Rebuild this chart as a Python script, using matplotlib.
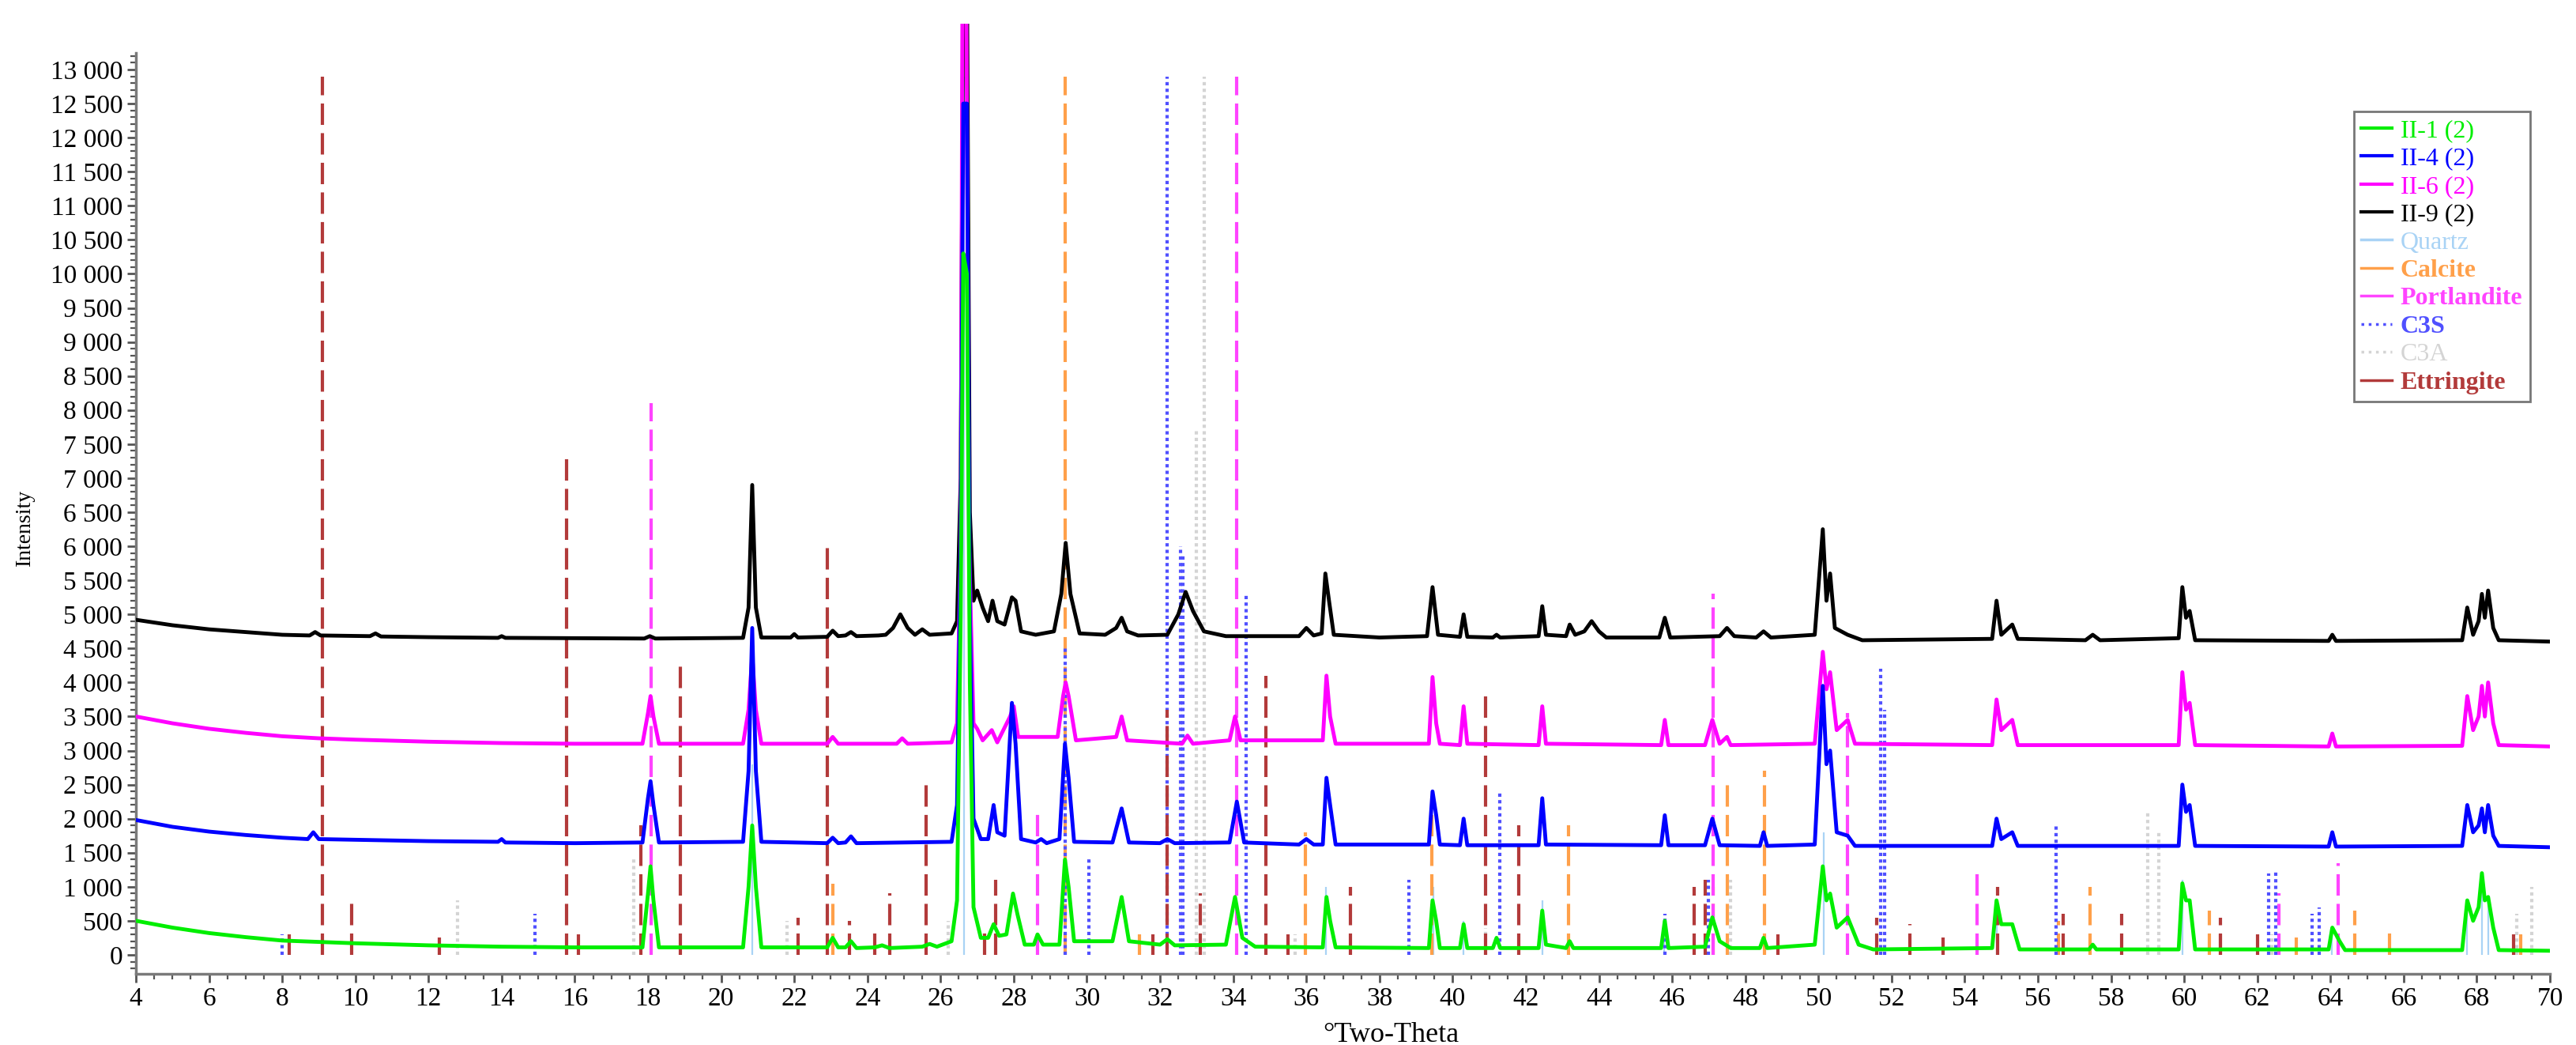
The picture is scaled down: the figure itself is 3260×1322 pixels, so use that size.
import matplotlib
matplotlib.use("Agg")
import matplotlib.pyplot as plt
from matplotlib.lines import Line2D
from matplotlib.ticker import MultipleLocator, FixedLocator, FuncFormatter

plt.rcParams['font.family'] = ['Liberation Serif', 'DejaVu Serif']

ii9 = [(4.0, 4920), (5.0, 4840), (6.0, 4780), (7.0, 4740), (8.0, 4700), (8.75, 4690), (8.9, 4740), (9.05, 4690),
       (10.4, 4680), (10.55, 4720), (10.7, 4675), (12.0, 4665), (13.9, 4655), (14.0, 4680), (14.1, 4655),
       (17.9, 4645), (18.05, 4680), (18.2, 4645), (20.6, 4655), (20.75, 5100), (20.85, 6900), (20.95, 5100),
       (21.1, 4660), (21.9, 4660), (22.0, 4710), (22.1, 4660), (22.9, 4670), (23.05, 4760), (23.2, 4680),
       (23.4, 4690), (23.55, 4740), (23.7, 4680), (24.3, 4690), (24.5, 4700), (24.7, 4800), (24.9, 5000),
       (25.1, 4800), (25.3, 4700), (25.5, 4780), (25.7, 4700), (26.3, 4720), (26.45, 4900), (26.55, 7000),
       (26.62, 14500), (26.72, 14500), (26.8, 6500), (26.9, 5200), (27.0, 5350), (27.15, 5100), (27.3, 4900),
       (27.42, 5200), (27.55, 4900), (27.75, 4850), (27.95, 5250), (28.05, 5200), (28.2, 4750), (28.6, 4700),
       (29.1, 4750), (29.3, 5300), (29.42, 6050), (29.55, 5300), (29.8, 4720), (30.5, 4700), (30.8, 4800),
       (30.95, 4950), (31.1, 4750), (31.4, 4690), (32.2, 4700), (32.5, 5000), (32.7, 5330), (32.9, 5050),
       (33.2, 4750), (33.8, 4680), (35.8, 4680), (36.0, 4800), (36.2, 4690), (36.42, 4720), (36.52, 5600),
       (36.62, 5200), (36.75, 4700), (38.0, 4660), (39.3, 4680), (39.45, 5400), (39.6, 4700), (40.2, 4670),
       (40.3, 5000), (40.4, 4670), (41.1, 4660), (41.2, 4700), (41.3, 4660), (42.35, 4680), (42.45, 5120),
       (42.55, 4700), (43.1, 4680), (43.2, 4850), (43.35, 4700), (43.6, 4750), (43.8, 4900), (44.0, 4750),
       (44.2, 4660), (45.65, 4660), (45.8, 4950), (45.95, 4660), (47.3, 4680), (47.5, 4800), (47.7, 4680),
       (48.3, 4660), (48.5, 4750), (48.7, 4660), (49.9, 4700), (50.12, 6250), (50.22, 5200), (50.32, 5600),
       (50.45, 4800), (50.8, 4700), (51.2, 4620), (54.75, 4640), (54.87, 5200), (55.0, 4700), (55.3, 4850),
       (55.45, 4640), (57.3, 4620), (57.5, 4700), (57.7, 4620), (59.85, 4650), (59.95, 5400), (60.05, 4950),
       (60.15, 5050), (60.3, 4620), (63.95, 4610), (64.05, 4700), (64.15, 4610), (67.6, 4620), (67.74, 5100),
       (67.9, 4700), (68.05, 4900), (68.14, 5300), (68.22, 4950), (68.31, 5350), (68.45, 4800), (68.6, 4620),
       (70.0, 4600)]

ii6 = [(4.0, 3500), (5.0, 3400), (6.0, 3320), (7.0, 3260), (8.0, 3210), (9.0, 3180), (10.0, 3160), (12.0, 3130),
       (14.0, 3110), (16.0, 3100), (17.85, 3100), (18.0, 3550), (18.07, 3800), (18.15, 3500), (18.3, 3100),
       (20.6, 3100), (20.75, 3600), (20.85, 4400), (20.95, 3600), (21.1, 3100), (22.9, 3100), (23.05, 3200),
       (23.2, 3100), (24.8, 3100), (24.95, 3180), (25.1, 3100), (26.3, 3120), (26.45, 3400), (26.55, 6000),
       (26.6, 14500), (26.7, 14500), (26.78, 6000), (26.9, 3400), (27.0, 3320), (27.15, 3150), (27.4, 3300),
       (27.55, 3120), (27.9, 3500), (28.0, 3650), (28.12, 3200), (29.2, 3200), (29.35, 3800), (29.42, 4000),
       (29.5, 3800), (29.7, 3150), (30.8, 3200), (30.95, 3500), (31.1, 3150), (32.6, 3100), (32.75, 3220),
       (32.9, 3100), (33.9, 3150), (34.05, 3500), (34.2, 3150), (36.45, 3150), (36.55, 4100), (36.65, 3500),
       (36.8, 3100), (39.35, 3100), (39.45, 4080), (39.55, 3400), (39.65, 3100), (40.2, 3080), (40.3, 3650),
       (40.4, 3100), (42.35, 3080), (42.45, 3650), (42.55, 3100), (45.7, 3080), (45.8, 3450), (45.9, 3080),
       (46.9, 3080), (47.1, 3450), (47.3, 3100), (47.5, 3200), (47.6, 3080), (49.9, 3100), (50.12, 4450),
       (50.22, 3900), (50.32, 4150), (50.5, 3300), (50.8, 3450), (51.0, 3100), (54.75, 3080), (54.87, 3750),
       (55.0, 3300), (55.3, 3450), (55.45, 3080), (59.85, 3080), (59.95, 4150), (60.05, 3600), (60.15, 3700),
       (60.3, 3080), (63.95, 3060), (64.05, 3250), (64.15, 3060), (67.6, 3070), (67.74, 3800), (67.9, 3300),
       (68.05, 3500), (68.14, 3950), (68.22, 3500), (68.31, 4000), (68.45, 3400), (68.6, 3080), (70.0, 3060)]

ii4 = [(4.0, 1980), (5.0, 1880), (6.0, 1810), (7.0, 1760), (8.0, 1720), (8.7, 1700), (8.85, 1800), (9.0, 1700),
       (10.0, 1690), (12.0, 1670), (13.9, 1660), (14.0, 1700), (14.1, 1650), (16.0, 1640), (17.85, 1650),
       (18.0, 2300), (18.07, 2550), (18.15, 2200), (18.3, 1650), (20.6, 1660), (20.75, 2700), (20.85, 4800),
       (20.95, 2700), (21.1, 1660), (22.9, 1640), (23.05, 1720), (23.2, 1640), (23.4, 1650), (23.55, 1740),
       (23.7, 1640), (26.3, 1660), (26.45, 2200), (26.55, 6000), (26.62, 12500), (26.72, 12500), (26.8, 5000),
       (26.9, 2000), (27.1, 1700), (27.3, 1700), (27.45, 2200), (27.55, 1800), (27.75, 1750), (27.95, 3700),
       (28.05, 3100), (28.2, 1700), (28.6, 1650), (28.75, 1700), (28.9, 1640), (29.25, 1700), (29.4, 3100),
       (29.5, 2600), (29.65, 1660), (30.7, 1650), (30.95, 2150), (31.15, 1650), (32.0, 1640), (32.2, 1700),
       (32.4, 1640), (33.9, 1650), (34.1, 2250), (34.3, 1650), (35.8, 1620), (36.0, 1700), (36.2, 1620),
       (36.45, 1620), (36.55, 2600), (36.65, 2200), (36.8, 1620), (39.35, 1620), (39.45, 2400), (39.55, 2050),
       (39.65, 1620), (40.2, 1610), (40.3, 2000), (40.4, 1610), (42.35, 1610), (42.45, 2300), (42.55, 1620),
       (45.7, 1610), (45.8, 2050), (45.9, 1610), (46.9, 1610), (47.1, 2000), (47.3, 1610), (48.4, 1600),
       (48.5, 1800), (48.6, 1600), (49.9, 1620), (50.12, 3950), (50.22, 2800), (50.32, 3000), (50.5, 1800),
       (50.8, 1750), (51.0, 1600), (54.75, 1600), (54.87, 2000), (55.0, 1700), (55.3, 1800), (55.45, 1600),
       (59.85, 1600), (59.95, 2500), (60.05, 2100), (60.15, 2200), (60.3, 1600), (63.95, 1590), (64.05, 1800),
       (64.15, 1590), (67.6, 1600), (67.74, 2200), (67.9, 1800), (68.05, 1900), (68.14, 2150), (68.22, 1800),
       (68.31, 2200), (68.45, 1750), (68.6, 1600), (70.0, 1580)]

ii1 = [(4.0, 500), (5.0, 400), (6.0, 320), (7.0, 260), (8.0, 210), (9.0, 190), (10.0, 170), (12.0, 140),
       (14.0, 120), (16.0, 110), (17.85, 110), (18.0, 900), (18.07, 1300), (18.15, 800), (18.3, 110),
       (20.6, 110), (20.75, 1000), (20.85, 1900), (20.95, 1000), (21.1, 110), (22.9, 110), (23.05, 250),
       (23.2, 110), (23.4, 110), (23.55, 200), (23.7, 100), (24.2, 110), (24.4, 140), (24.6, 100), (25.5, 120),
       (25.7, 160), (25.9, 120), (26.3, 200), (26.45, 800), (26.55, 5000), (26.62, 10300), (26.72, 10000),
       (26.8, 4000), (26.9, 700), (27.1, 250), (27.3, 250), (27.45, 450), (27.6, 280), (27.8, 300), (27.98, 900),
       (28.1, 600), (28.3, 150), (28.55, 150), (28.65, 300), (28.8, 150), (29.25, 150), (29.4, 1400),
       (29.5, 1000), (29.65, 200), (30.7, 200), (30.95, 850), (31.15, 200), (32.0, 150), (32.2, 230),
       (32.4, 140), (33.8, 150), (34.05, 850), (34.25, 250), (34.6, 120), (36.45, 110), (36.55, 850),
       (36.65, 500), (36.8, 110), (39.35, 100), (39.45, 800), (39.55, 500), (39.65, 100), (40.2, 100),
       (40.3, 450), (40.4, 100), (41.1, 100), (41.2, 250), (41.3, 100), (42.35, 100), (42.45, 650), (42.55, 150),
       (43.1, 100), (43.2, 200), (43.3, 100), (45.7, 100), (45.8, 500), (45.9, 100), (46.9, 120), (47.1, 550),
       (47.3, 200), (47.6, 100), (48.4, 100), (48.5, 250), (48.6, 100), (49.9, 150), (50.12, 1300),
       (50.22, 800), (50.32, 900), (50.5, 400), (50.8, 550), (51.1, 150), (51.5, 80), (54.75, 100),
       (54.87, 800), (55.0, 450), (55.3, 450), (55.5, 80), (57.4, 80), (57.5, 150), (57.6, 80), (59.85, 80),
       (59.95, 1050), (60.05, 800), (60.15, 800), (60.3, 80), (63.95, 80), (64.05, 400), (64.25, 200),
       (64.4, 70), (67.6, 70), (67.74, 800), (67.9, 500), (68.05, 700), (68.14, 1200), (68.22, 800),
       (68.31, 850), (68.45, 400), (68.6, 70), (70.0, 60)]

# reference sticks (2theta, height)
quartz = [(20.86, 2800), (26.64, 12900), (36.54, 1000), (39.47, 1000), (40.29, 500), (42.45, 800), (45.79, 500),
          (50.14, 1800), (54.87, 500), (59.96, 1100), (64.04, 300), (67.74, 800), (68.14, 1000), (68.31, 800)]
calcite = [(23.06, 1050), (29.41, 12900), (31.44, 300), (35.97, 1800), (39.42, 2300), (43.16, 1900),
           (47.13, 1000), (47.52, 2500), (48.52, 2700), (56.57, 500), (57.42, 1000), (60.68, 650), (61.0, 300),
           (63.07, 250), (64.67, 650), (65.62, 400), (69.2, 300)]
portlandite = [(18.09, 8100), (28.66, 2100), (34.09, 12900), (47.12, 5300), (50.79, 3550), (54.33, 1300),
               (62.6, 900), (64.2, 1350)]
c3s = [(8.0, 300), (14.9, 600), (29.4, 4500), (30.05, 1400), (32.19, 12900), (32.55, 6000), (32.62, 5900),
       (34.35, 5300), (38.8, 1100), (41.28, 2400), (45.8, 600), (47.0, 1100), (51.7, 4200), (51.8, 3600),
       (56.5, 1900), (62.3, 1200), (62.5, 1250), (63.5, 600), (63.7, 700)]
c3a = [(12.8, 800), (17.6, 1400), (21.8, 500), (26.2, 500), (33.0, 7700), (33.2, 12900), (35.7, 300),
       (40.9, 400), (47.6, 1100), (59.0, 2100), (59.3, 1800), (62.4, 300), (69.1, 600), (69.5, 1000)]
ettringite = [(8.2, 300), (9.09, 12900), (9.9, 750), (12.3, 250), (15.78, 7300), (16.1, 300), (17.8, 1900),
              (18.88, 4300), (22.1, 550), (22.9, 6000), (23.5, 500), (24.2, 400), (24.6, 900), (25.6, 2600),
              (27.2, 400), (27.5, 1100), (31.8, 300), (32.2, 3600), (33.1, 900), (34.9, 4100), (35.5, 300),
              (37.2, 1000), (40.9, 3800), (41.8, 1900), (46.6, 1000), (46.9, 1100), (48.9, 300), (51.6, 550),
              (52.5, 450), (53.4, 250), (54.9, 1000), (56.7, 600), (58.3, 600), (61.0, 550), (62.0, 300),
              (69.0, 300)]

samples = [("II-1 (2)", ii1, "#00ee00"), ("II-4 (2)", ii4, "#0000ff"),
           ("II-6 (2)", ii6, "#ff00ff"), ("II-9 (2)", ii9, "#000000")]
phases = [("Quartz", quartz, "#a9d3f5", "-", 1.6),
          ("Calcite", calcite, "#ffa04a", (0, (6.5, 2.5)), 3.0),
          ("Portlandite", portlandite, "#ff44ff", (0, (6.5, 2.5)), 3.0),
          ("C3S", c3s, "#5050ff", (0, (1, 1)), 3.0),
          ("C3A", c3a, "#d4d4d4", (0, (1, 1)), 3.0),
          ("Ettringite", ettringite, "#b23a3a", (0, (6.5, 2.5)), 3.0)]

fig = plt.figure(figsize=(32.6, 13.22), dpi=100)
ax = fig.add_axes([0.05276, 0.06808, 0.93712, 0.90923])

for name, sticks, col, ls, lw in phases:
    xs = [s[0] for s in sticks]
    hs = [s[1] for s in sticks]
    ax.vlines(xs, 0, hs, colors=col, linestyles=[ls], linewidth=lw, zorder=2)

for name, pts, col in samples[::-1]:
    ax.plot([p[0] for p in pts], [p[1] for p in pts], color=col, lw=3.5, zorder=3)

ax.set_xlim(4, 70)
ax.set_ylim(-279, 13673)

for s in ['top', 'right']:
    ax.spines[s].set_visible(False)
for s in ['left', 'bottom']:
    ax.spines[s].set_color('#7a7a7a')
    ax.spines[s].set_linewidth(2.5)
ax.spines['left'].set_bounds(-279, 13244)

ax.xaxis.set_major_locator(MultipleLocator(2))
ax.xaxis.set_minor_locator(MultipleLocator(0.5))
ax.yaxis.set_major_locator(FixedLocator(list(range(0, 13001, 500))))
ax.yaxis.set_minor_locator(FixedLocator(list(range(-200, 13201, 100))))
ax.yaxis.set_major_formatter(FuncFormatter(lambda v, p: f"{v:,.0f}".replace(",", " ")))
ax.tick_params(which='major', length=8, width=2, color='#555555', labelsize=24, pad=4)
ax.tick_params(which='minor', length=5, width=1.6, color='#555555')

ax.set_xlabel("°Two-Theta", fontsize=26)
ax.xaxis.set_label_coords(0.52, -0.051)
ax.set_ylabel("Intensity", fontsize=20)
ax.yaxis.set_label_coords(-0.042, 0.47)

handles = [Line2D([], [], color=c, lw=3) for _, _, c in samples]
for _, _, c, ls, lw in phases:
    handles.append(Line2D([], [], color=c, lw=2.5, linestyle=':' if ls == (0, (1, 1)) else '-'))
labels = [n for n, _, _ in samples] + [p[0] for p in phases]
leg = ax.legend(handles, labels, loc='upper right', bbox_to_anchor=(0.9918, 0.9077), fontsize=23,
                frameon=True, fancybox=False, handlelength=1.2, handletextpad=0.35,
                labelspacing=0.19, borderpad=0.3, borderaxespad=0)
leg.get_frame().set_edgecolor('#555555')
leg.get_frame().set_linewidth(2)
for txt, h in zip(leg.get_texts(), handles):
    txt.set_color(h.get_color())
    if txt.get_text() in ("Calcite", "Portlandite", "C3S", "Ettringite"):
        txt.set_fontweight('bold')

fig.savefig("out.png", dpi=100)
